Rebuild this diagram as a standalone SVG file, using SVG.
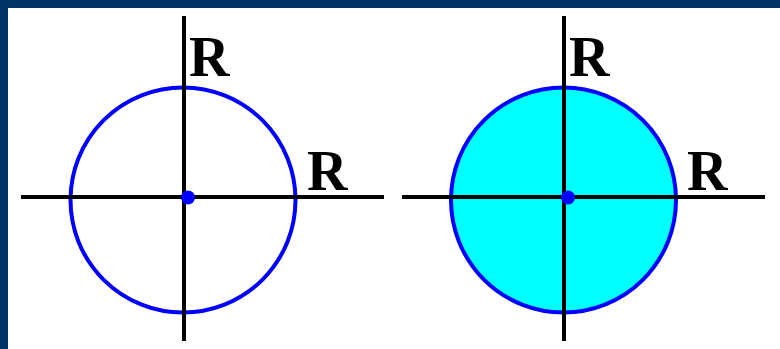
<svg xmlns="http://www.w3.org/2000/svg" width="780" height="349" viewBox="0 0 780 349">
<style>
.axis{stroke:#000;stroke-width:4;fill:none}
.ring{stroke:#0000ff;stroke-width:4}
.dot{fill:#0000ff}
.lbl{font-family:"Liberation Serif","Times New Roman",serif;font-weight:bold;font-size:56px;fill:#000}
</style>
<rect x="0" y="0" width="780" height="349" fill="#ffffff"/>
<rect x="0" y="0" width="780" height="8" fill="#003366"/>
<rect x="0" y="0" width="8" height="349" fill="#003366"/>
<g id="circle-outline">
<circle class="ring" cx="183" cy="200" r="112.5" fill="none"/>
</g>
<g id="disk-filled">
<circle class="ring" cx="563.5" cy="200" r="112.5" fill="#00ffff"/>
</g>
<g id="axes">
<line class="axis" x1="184" y1="16" x2="184" y2="341"/>
<line class="axis" x1="21" y1="197" x2="384" y2="197"/>
<line class="axis" x1="564" y1="16" x2="564" y2="341"/>
<line class="axis" x1="402" y1="197" x2="765" y2="197"/>
</g>
<g id="centers">
<circle class="dot" cx="188" cy="197.5" r="7"/>
<circle class="dot" cx="568" cy="197.5" r="7"/>
</g>
<g id="labels">
<text class="lbl" x="189" y="76">R</text>
<text class="lbl" x="307" y="190">R</text>
<text class="lbl" x="569" y="76">R</text>
<text class="lbl" x="687" y="190">R</text>
</g>
</svg>
